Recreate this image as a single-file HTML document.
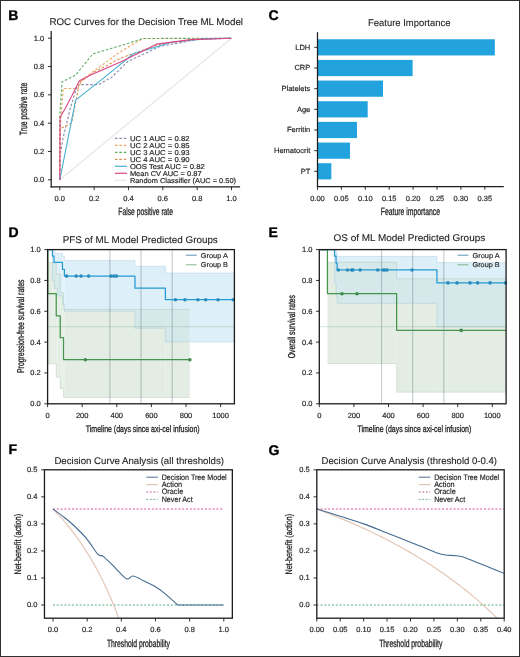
<!DOCTYPE html>
<html><head><meta charset="utf-8"><style>
html,body{margin:0;padding:0;background:#fff;width:520px;height:657px;overflow:hidden}
svg{display:block;will-change:transform}
text{font-family:"Liberation Sans", sans-serif;text-rendering:geometricPrecision}
</style></head><body>
<svg width="520" height="657" viewBox="0 0 520 657" font-family='"Liberation Sans", sans-serif'>
<rect x="0" y="0" width="520" height="657" fill="#ffffff"/>
<text x="8.3" y="19.6" font-size="14.0" fill="#000" text-anchor="start" stroke="#000" stroke-width="0.35" font-weight="bold">B</text>
<text x="49.4" y="25" font-size="9.7" fill="#222222" text-anchor="start" stroke="#222222" stroke-width="0.1" textLength="193.6" lengthAdjust="spacingAndGlyphs">ROC Curves for the Decision Tree ML Model</text>
<line x1="59.8" y1="179.8" x2="231.5" y2="38.2" stroke="#e8e8e8" stroke-width="1.3"/>
<polyline points="59.8,179.8 59.8,157.14 63.23,137.32 70.1,109 77.49,84.64 98.6,84.64 112.17,76.86 127.62,61.56 160.24,46.27 197.16,39.62 231.5,38.2" fill="none" stroke="#8a8ab0" stroke-width="1.1" stroke-linejoin="round" stroke-dasharray="2.6,1.8"/>
<polyline points="59.8,179.8 60.14,128.82 63.23,88.47 77.49,88.47 83.32,78.84 119.89,51.94 143.07,38.48 231.5,38.48" fill="none" stroke="#eea868" stroke-width="1.1" stroke-linejoin="round" stroke-dasharray="2.6,1.8"/>
<polyline points="59.8,179.8 59.8,116.08 62.03,81.95 75.6,75.02 92.94,53.78 125.73,44.15 143.07,38.48 231.5,38.2" fill="none" stroke="#5fae5f" stroke-width="1.1" stroke-linejoin="round" stroke-dasharray="2.6,1.8"/>
<polyline points="59.8,179.8 59.8,128.82 71.65,123.16 79.37,82.66 94.14,72.18 121.61,57.74 160.24,44.15 197.16,38.91 231.5,38.2" fill="none" stroke="#d89454" stroke-width="1.1" stroke-linejoin="round" stroke-dasharray="2.6,1.8"/>
<polyline points="59.8,179.8 75.6,100.08 102.55,78.84 133.46,53.78 171.75,42.31 205.75,38.62 231.5,38.2" fill="none" stroke="#48b0d4" stroke-width="1.1" stroke-linejoin="round"/>
<polyline points="59.8,179.8 60.14,117.35 64.95,109 71.65,96.26 79.37,80.68 90.71,75.02 121.61,61.56 156.47,44.15 191.15,39.62 231.5,38.2" fill="none" stroke="#dc4688" stroke-width="1.1" stroke-linejoin="round"/>
<line x1="114.9" y1="138.3" x2="127" y2="138.3" stroke="#8a8ab0" stroke-width="1.2" stroke-dasharray="2.6,1.8"/>
<text x="129.9" y="140.5" font-size="7.1" fill="#222222" text-anchor="start" stroke="#222222" stroke-width="0.16" textLength="59.6" lengthAdjust="spacingAndGlyphs">UC 1 AUC = 0.82</text>
<line x1="114.9" y1="145.3" x2="127" y2="145.3" stroke="#eea868" stroke-width="1.2" stroke-dasharray="2.6,1.8"/>
<text x="129.9" y="147.5" font-size="7.1" fill="#222222" text-anchor="start" stroke="#222222" stroke-width="0.16" textLength="59.6" lengthAdjust="spacingAndGlyphs">UC 2 AUC = 0.85</text>
<line x1="114.9" y1="152.3" x2="127" y2="152.3" stroke="#5fae5f" stroke-width="1.2" stroke-dasharray="2.6,1.8"/>
<text x="129.9" y="154.5" font-size="7.1" fill="#222222" text-anchor="start" stroke="#222222" stroke-width="0.16" textLength="59.6" lengthAdjust="spacingAndGlyphs">UC 3 AUC = 0.93</text>
<line x1="114.9" y1="159.3" x2="127" y2="159.3" stroke="#d89454" stroke-width="1.2" stroke-dasharray="2.6,1.8"/>
<text x="129.9" y="161.5" font-size="7.1" fill="#222222" text-anchor="start" stroke="#222222" stroke-width="0.16" textLength="59.6" lengthAdjust="spacingAndGlyphs">UC 4 AUC = 0.90</text>
<line x1="114.9" y1="166.3" x2="127" y2="166.3" stroke="#48b0d4" stroke-width="1.2"/>
<text x="129.9" y="168.5" font-size="7.1" fill="#222222" text-anchor="start" stroke="#222222" stroke-width="0.16" textLength="74.8" lengthAdjust="spacingAndGlyphs">OOS Test AUC = 0.82</text>
<line x1="114.9" y1="173.3" x2="127" y2="173.3" stroke="#dc4688" stroke-width="1.2"/>
<text x="129.9" y="175.5" font-size="7.1" fill="#222222" text-anchor="start" stroke="#222222" stroke-width="0.16" textLength="71.7" lengthAdjust="spacingAndGlyphs">Mean CV AUC = 0.87</text>
<line x1="114.9" y1="180.3" x2="127" y2="180.3" stroke="#e8e8e8" stroke-width="1.2"/>
<text x="129.9" y="182.5" font-size="7.1" fill="#222222" text-anchor="start" stroke="#222222" stroke-width="0.16" textLength="106.1" lengthAdjust="spacingAndGlyphs">Random Classifier (AUC = 0.50)</text>
<line x1="51.2" y1="31.1" x2="51.2" y2="187.5" stroke="#1c1c1c" stroke-width="1.25"/>
<line x1="50.6" y1="186.9" x2="240.1" y2="186.9" stroke="#1c1c1c" stroke-width="1.25"/>
<line x1="59.8" y1="186.9" x2="59.8" y2="190.2" stroke="#1c1c1c" stroke-width="0.9"/>
<text x="59.8" y="200.8" font-size="7.5" fill="#222222" text-anchor="middle" stroke="#222222" stroke-width="0.16">0.0</text>
<line x1="94.14" y1="186.9" x2="94.14" y2="190.2" stroke="#1c1c1c" stroke-width="0.9"/>
<text x="94.14" y="200.8" font-size="7.5" fill="#222222" text-anchor="middle" stroke="#222222" stroke-width="0.16">0.2</text>
<line x1="128.48" y1="186.9" x2="128.48" y2="190.2" stroke="#1c1c1c" stroke-width="0.9"/>
<text x="128.48" y="200.8" font-size="7.5" fill="#222222" text-anchor="middle" stroke="#222222" stroke-width="0.16">0.4</text>
<line x1="162.82" y1="186.9" x2="162.82" y2="190.2" stroke="#1c1c1c" stroke-width="0.9"/>
<text x="162.82" y="200.8" font-size="7.5" fill="#222222" text-anchor="middle" stroke="#222222" stroke-width="0.16">0.6</text>
<line x1="197.16" y1="186.9" x2="197.16" y2="190.2" stroke="#1c1c1c" stroke-width="0.9"/>
<text x="197.16" y="200.8" font-size="7.5" fill="#222222" text-anchor="middle" stroke="#222222" stroke-width="0.16">0.8</text>
<line x1="231.5" y1="186.9" x2="231.5" y2="190.2" stroke="#1c1c1c" stroke-width="0.9"/>
<text x="231.5" y="200.8" font-size="7.5" fill="#222222" text-anchor="middle" stroke="#222222" stroke-width="0.16">1.0</text>
<line x1="47.9" y1="179.8" x2="51.2" y2="179.8" stroke="#1c1c1c" stroke-width="0.9"/>
<text x="44.3" y="182.25" font-size="7.5" fill="#222222" text-anchor="end" stroke="#222222" stroke-width="0.16">0.0</text>
<line x1="47.9" y1="151.48" x2="51.2" y2="151.48" stroke="#1c1c1c" stroke-width="0.9"/>
<text x="44.3" y="153.93" font-size="7.5" fill="#222222" text-anchor="end" stroke="#222222" stroke-width="0.16">0.2</text>
<line x1="47.9" y1="123.16" x2="51.2" y2="123.16" stroke="#1c1c1c" stroke-width="0.9"/>
<text x="44.3" y="125.61" font-size="7.5" fill="#222222" text-anchor="end" stroke="#222222" stroke-width="0.16">0.4</text>
<line x1="47.9" y1="94.84" x2="51.2" y2="94.84" stroke="#1c1c1c" stroke-width="0.9"/>
<text x="44.3" y="97.29" font-size="7.5" fill="#222222" text-anchor="end" stroke="#222222" stroke-width="0.16">0.6</text>
<line x1="47.9" y1="66.52" x2="51.2" y2="66.52" stroke="#1c1c1c" stroke-width="0.9"/>
<text x="44.3" y="68.97" font-size="7.5" fill="#222222" text-anchor="end" stroke="#222222" stroke-width="0.16">0.8</text>
<line x1="47.9" y1="38.2" x2="51.2" y2="38.2" stroke="#1c1c1c" stroke-width="0.9"/>
<text x="44.3" y="40.65" font-size="7.5" fill="#222222" text-anchor="end" stroke="#222222" stroke-width="0.16">1.0</text>
<text x="145.65" y="214.9" font-size="10.5" fill="#222222" text-anchor="middle" stroke="#222222" stroke-width="0.3" textLength="54.7" lengthAdjust="spacingAndGlyphs">False positive rate</text>
<text x="26.8" y="109" font-size="10.5" fill="#222222" text-anchor="middle" stroke="#222222" stroke-width="0.3" textLength="52.4" lengthAdjust="spacingAndGlyphs" transform="rotate(-90 26.8 109)">True positive rate</text>
<text x="268.5" y="20" font-size="14.0" fill="#000" text-anchor="start" stroke="#000" stroke-width="0.35" font-weight="bold">C</text>
<text x="368.1" y="25.9" font-size="9.7" fill="#222222" text-anchor="start" stroke="#222222" stroke-width="0.1" textLength="82.3" lengthAdjust="spacingAndGlyphs">Feature Importance</text>
<rect x="317.5" y="39.25" width="177.34" height="16.2" fill="#22a3de"/>
<rect x="317.5" y="59.91" width="95.12" height="16.2" fill="#22a3de"/>
<rect x="317.5" y="80.57" width="65.49" height="16.2" fill="#22a3de"/>
<rect x="317.5" y="101.23" width="50.19" height="16.2" fill="#22a3de"/>
<rect x="317.5" y="121.89" width="39.48" height="16.2" fill="#22a3de"/>
<rect x="317.5" y="142.55" width="32.5" height="16.2" fill="#22a3de"/>
<rect x="317.5" y="163.21" width="13.86" height="16.2" fill="#22a3de"/>
<line x1="317.5" y1="32.2" x2="317.5" y2="187.1" stroke="#1c1c1c" stroke-width="1.25"/>
<line x1="316.9" y1="186.5" x2="503.8" y2="186.5" stroke="#1c1c1c" stroke-width="1.25"/>
<line x1="317.5" y1="186.5" x2="317.5" y2="189.8" stroke="#1c1c1c" stroke-width="0.9"/>
<text x="317.5" y="200.5" font-size="7.5" fill="#222222" text-anchor="middle" stroke="#222222" stroke-width="0.16">0.00</text>
<line x1="341.4" y1="186.5" x2="341.4" y2="189.8" stroke="#1c1c1c" stroke-width="0.9"/>
<text x="341.4" y="200.5" font-size="7.5" fill="#222222" text-anchor="middle" stroke="#222222" stroke-width="0.16">0.05</text>
<line x1="365.3" y1="186.5" x2="365.3" y2="189.8" stroke="#1c1c1c" stroke-width="0.9"/>
<text x="365.3" y="200.5" font-size="7.5" fill="#222222" text-anchor="middle" stroke="#222222" stroke-width="0.16">0.10</text>
<line x1="389.2" y1="186.5" x2="389.2" y2="189.8" stroke="#1c1c1c" stroke-width="0.9"/>
<text x="389.2" y="200.5" font-size="7.5" fill="#222222" text-anchor="middle" stroke="#222222" stroke-width="0.16">0.15</text>
<line x1="413.1" y1="186.5" x2="413.1" y2="189.8" stroke="#1c1c1c" stroke-width="0.9"/>
<text x="413.1" y="200.5" font-size="7.5" fill="#222222" text-anchor="middle" stroke="#222222" stroke-width="0.16">0.20</text>
<line x1="437" y1="186.5" x2="437" y2="189.8" stroke="#1c1c1c" stroke-width="0.9"/>
<text x="437" y="200.5" font-size="7.5" fill="#222222" text-anchor="middle" stroke="#222222" stroke-width="0.16">0.25</text>
<line x1="460.9" y1="186.5" x2="460.9" y2="189.8" stroke="#1c1c1c" stroke-width="0.9"/>
<text x="460.9" y="200.5" font-size="7.5" fill="#222222" text-anchor="middle" stroke="#222222" stroke-width="0.16">0.30</text>
<line x1="484.8" y1="186.5" x2="484.8" y2="189.8" stroke="#1c1c1c" stroke-width="0.9"/>
<text x="484.8" y="200.5" font-size="7.5" fill="#222222" text-anchor="middle" stroke="#222222" stroke-width="0.16">0.35</text>
<line x1="314.2" y1="47.35" x2="317.5" y2="47.35" stroke="#1c1c1c" stroke-width="0.9"/>
<text x="310.3" y="49.8" font-size="7.5" fill="#222222" text-anchor="end" stroke="#222222" stroke-width="0.16">LDH</text>
<line x1="314.2" y1="68.01" x2="317.5" y2="68.01" stroke="#1c1c1c" stroke-width="0.9"/>
<text x="310.3" y="70.46" font-size="7.5" fill="#222222" text-anchor="end" stroke="#222222" stroke-width="0.16">CRP</text>
<line x1="314.2" y1="88.67" x2="317.5" y2="88.67" stroke="#1c1c1c" stroke-width="0.9"/>
<text x="310.3" y="91.12" font-size="7.5" fill="#222222" text-anchor="end" stroke="#222222" stroke-width="0.16">Platelets</text>
<line x1="314.2" y1="109.33" x2="317.5" y2="109.33" stroke="#1c1c1c" stroke-width="0.9"/>
<text x="310.3" y="111.78" font-size="7.5" fill="#222222" text-anchor="end" stroke="#222222" stroke-width="0.16">Age</text>
<line x1="314.2" y1="129.99" x2="317.5" y2="129.99" stroke="#1c1c1c" stroke-width="0.9"/>
<text x="310.3" y="132.44" font-size="7.5" fill="#222222" text-anchor="end" stroke="#222222" stroke-width="0.16">Ferritin</text>
<line x1="314.2" y1="150.65" x2="317.5" y2="150.65" stroke="#1c1c1c" stroke-width="0.9"/>
<text x="310.3" y="153.1" font-size="7.5" fill="#222222" text-anchor="end" stroke="#222222" stroke-width="0.16">Hematocrit</text>
<line x1="314.2" y1="171.31" x2="317.5" y2="171.31" stroke="#1c1c1c" stroke-width="0.9"/>
<text x="310.3" y="173.76" font-size="7.5" fill="#222222" text-anchor="end" stroke="#222222" stroke-width="0.16">PT</text>
<text x="410.4" y="214.7" font-size="10.5" fill="#222222" text-anchor="middle" stroke="#222222" stroke-width="0.3" textLength="59.2" lengthAdjust="spacingAndGlyphs">Feature importance</text>
<text x="8.5" y="237.2" font-size="14.0" fill="#000" text-anchor="start" stroke="#000" stroke-width="0.35" font-weight="bold">D</text>
<text x="62.7" y="243.35" font-size="9.7" fill="#222222" text-anchor="start" stroke="#222222" stroke-width="0.1" textLength="155.1" lengthAdjust="spacingAndGlyphs">PFS of ML Model Predicted Groups</text>
<rect x="47.6" y="249.6" width="0.17" height="0" fill="#ddeff8"/>
<rect x="47.6" y="249.6" width="0.17" height="0" fill="#e3ede3"/>
<rect x="47.77" y="249.6" width="4.67" height="0" fill="#ddeff8"/>
<rect x="47.77" y="262.55" width="4.67" height="101.31" fill="#e3ede3"/>
<rect x="52.44" y="250.37" width="1.9" height="30.07" fill="#ddeff8"/>
<rect x="52.44" y="262.55" width="1.9" height="101.31" fill="#e3ede3"/>
<rect x="52.44" y="262.55" width="1.9" height="17.89" fill="#d5e9eb"/>
<rect x="54.35" y="253.46" width="1.9" height="35" fill="#ddeff8"/>
<rect x="54.35" y="262.55" width="1.9" height="101.31" fill="#e3ede3"/>
<rect x="54.35" y="262.55" width="1.9" height="25.91" fill="#d5e9eb"/>
<rect x="56.25" y="253.46" width="1.04" height="35" fill="#ddeff8"/>
<rect x="56.25" y="274.27" width="1.04" height="103.01" fill="#e3ede3"/>
<rect x="56.25" y="274.27" width="1.04" height="14.19" fill="#d5e9eb"/>
<rect x="57.29" y="253.46" width="2.94" height="42.41" fill="#ddeff8"/>
<rect x="57.29" y="274.27" width="2.94" height="103.01" fill="#e3ede3"/>
<rect x="57.29" y="274.27" width="2.94" height="21.59" fill="#d5e9eb"/>
<rect x="60.23" y="253.46" width="2.25" height="42.41" fill="#ddeff8"/>
<rect x="60.23" y="292.78" width="2.25" height="95.76" fill="#e3ede3"/>
<rect x="60.23" y="292.78" width="2.25" height="3.08" fill="#d5e9eb"/>
<rect x="62.48" y="256.54" width="1.04" height="47.65" fill="#ddeff8"/>
<rect x="62.48" y="292.78" width="1.04" height="95.76" fill="#e3ede3"/>
<rect x="62.48" y="292.78" width="1.04" height="11.41" fill="#d5e9eb"/>
<rect x="63.52" y="256.54" width="0.87" height="47.65" fill="#ddeff8"/>
<rect x="63.52" y="309.43" width="0.87" height="88.05" fill="#e3ede3"/>
<rect x="64.38" y="260.55" width="70.58" height="50.73" fill="#ddeff8"/>
<rect x="64.38" y="309.43" width="70.58" height="88.05" fill="#e3ede3"/>
<rect x="64.38" y="309.43" width="70.58" height="1.85" fill="#d5e9eb"/>
<rect x="134.97" y="266.25" width="30.45" height="61.99" fill="#ddeff8"/>
<rect x="134.97" y="309.43" width="30.45" height="88.05" fill="#e3ede3"/>
<rect x="134.97" y="309.43" width="30.45" height="18.81" fill="#d5e9eb"/>
<rect x="165.41" y="273.04" width="24.39" height="68.93" fill="#ddeff8"/>
<rect x="165.41" y="309.43" width="24.39" height="88.05" fill="#e3ede3"/>
<rect x="165.41" y="309.43" width="24.39" height="32.54" fill="#d5e9eb"/>
<rect x="189.81" y="273.04" width="44.63" height="68.93" fill="#ddeff8"/>
<polyline points="47.6,249.6 52.44,249.6 52.44,250.37 54.35,250.37 54.35,253.46 62.48,253.46 62.48,256.54 64.38,256.54 64.38,260.55 134.97,260.55 134.97,266.25 165.41,266.25 165.41,273.04 234.44,273.04" fill="none" stroke="rgba(120,170,200,0.35)" stroke-width="0.7" stroke-linejoin="round"/>
<polyline points="47.6,249.6 52.44,249.6 52.44,280.44 54.35,280.44 54.35,288.46 57.29,288.46 57.29,295.86 62.48,295.86 62.48,304.19 64.38,304.19 64.38,311.28 134.97,311.28 134.97,328.24 165.41,328.24 165.41,341.97 234.44,341.97" fill="none" stroke="rgba(120,170,200,0.35)" stroke-width="0.7" stroke-linejoin="round"/>
<polyline points="47.6,249.6 47.77,249.6 47.77,262.55 56.25,262.55 56.25,274.27 60.23,274.27 60.23,292.78 63.52,292.78 63.52,309.43 189.81,309.43" fill="none" stroke="rgba(130,170,130,0.35)" stroke-width="0.7" stroke-linejoin="round"/>
<polyline points="47.6,249.6 47.77,249.6 47.77,363.86 56.25,363.86 56.25,377.28 60.23,377.28 60.23,388.53 63.52,388.53 63.52,397.48 189.81,397.48" fill="none" stroke="rgba(130,170,130,0.35)" stroke-width="0.7" stroke-linejoin="round"/>
<line x1="109.88" y1="249.6" x2="109.88" y2="403.8" stroke="rgba(70,95,105,0.45)" stroke-width="0.8"/>
<line x1="141.02" y1="249.6" x2="141.02" y2="403.8" stroke="rgba(70,95,105,0.45)" stroke-width="0.8"/>
<line x1="172.16" y1="249.6" x2="172.16" y2="403.8" stroke="rgba(70,95,105,0.45)" stroke-width="0.8"/>
<line x1="47.6" y1="326.7" x2="234.4" y2="326.7" stroke="rgba(120,170,130,0.45)" stroke-width="0.7"/>
<polyline points="47.6,249.6 52.44,249.6 52.44,256.08 54,256.08 54,262.4 62.48,262.4 62.48,269.34 64.38,269.34 64.38,276.12 134.97,276.12 134.97,288.15 165.41,288.15 165.41,299.72 234.44,299.72" fill="none" stroke="#239bd3" stroke-width="1.25" stroke-linejoin="round" stroke-linejoin="miter"/>
<polyline points="47.6,249.6 47.77,249.6 47.77,293.7 56.25,293.7 56.25,315.75 60.23,315.75 60.23,337.65 63.52,337.65 63.52,359.7 189.81,359.7" fill="none" stroke="#46954f" stroke-width="1.25" stroke-linejoin="round" stroke-linejoin="miter"/>
<circle cx="66.63" cy="276.12" r="1.8" fill="#2a8cbc"/>
<circle cx="76.14" cy="276.12" r="1.8" fill="#2a8cbc"/>
<circle cx="80.99" cy="276.12" r="1.8" fill="#2a8cbc"/>
<circle cx="88.6" cy="276.12" r="1.8" fill="#2a8cbc"/>
<circle cx="110.92" cy="276.12" r="1.8" fill="#2a8cbc"/>
<circle cx="113.86" cy="276.12" r="1.8" fill="#2a8cbc"/>
<circle cx="116.45" cy="276.12" r="1.8" fill="#2a8cbc"/>
<circle cx="175.45" cy="299.72" r="1.8" fill="#2a8cbc"/>
<circle cx="184.96" cy="299.72" r="1.8" fill="#2a8cbc"/>
<circle cx="197.94" cy="299.72" r="1.8" fill="#2a8cbc"/>
<circle cx="205.72" cy="299.72" r="1.8" fill="#2a8cbc"/>
<circle cx="218" cy="299.72" r="1.8" fill="#2a8cbc"/>
<circle cx="233.23" cy="299.72" r="1.8" fill="#2a8cbc"/>
<circle cx="85.31" cy="359.7" r="1.8" fill="#3f8a4c"/>
<circle cx="189.81" cy="359.7" r="1.8" fill="#3f8a4c"/>
<line x1="185.8" y1="255.2" x2="196.7" y2="255.2" stroke="#4a88b0" stroke-width="0.9"/>
<text x="200.8" y="257.8" font-size="7.0" fill="#222222" text-anchor="start" stroke="#222222" stroke-width="0.16" textLength="27.1" lengthAdjust="spacingAndGlyphs">Group A</text>
<line x1="185.8" y1="264.8" x2="196.7" y2="264.8" stroke="#78b080" stroke-width="0.9"/>
<text x="200.8" y="267.3" font-size="7.0" fill="#222222" text-anchor="start" stroke="#222222" stroke-width="0.16" textLength="27.1" lengthAdjust="spacingAndGlyphs">Group B</text>
<rect x="47.6" y="249.6" width="186.8" height="154.2" fill="none" stroke="#1c1c1c" stroke-width="1.3"/>
<line x1="47.6" y1="403.8" x2="47.6" y2="407.1" stroke="#1c1c1c" stroke-width="0.9"/>
<text x="47.6" y="417.8" font-size="7.5" fill="#222222" text-anchor="middle" stroke="#222222" stroke-width="0.16">0</text>
<line x1="82.2" y1="403.8" x2="82.2" y2="407.1" stroke="#1c1c1c" stroke-width="0.9"/>
<text x="82.2" y="417.8" font-size="7.5" fill="#222222" text-anchor="middle" stroke="#222222" stroke-width="0.16">200</text>
<line x1="116.8" y1="403.8" x2="116.8" y2="407.1" stroke="#1c1c1c" stroke-width="0.9"/>
<text x="116.8" y="417.8" font-size="7.5" fill="#222222" text-anchor="middle" stroke="#222222" stroke-width="0.16">400</text>
<line x1="151.4" y1="403.8" x2="151.4" y2="407.1" stroke="#1c1c1c" stroke-width="0.9"/>
<text x="151.4" y="417.8" font-size="7.5" fill="#222222" text-anchor="middle" stroke="#222222" stroke-width="0.16">600</text>
<line x1="186" y1="403.8" x2="186" y2="407.1" stroke="#1c1c1c" stroke-width="0.9"/>
<text x="186" y="417.8" font-size="7.5" fill="#222222" text-anchor="middle" stroke="#222222" stroke-width="0.16">800</text>
<line x1="220.6" y1="403.8" x2="220.6" y2="407.1" stroke="#1c1c1c" stroke-width="0.9"/>
<text x="220.6" y="417.8" font-size="7.5" fill="#222222" text-anchor="middle" stroke="#222222" stroke-width="0.16">1000</text>
<line x1="44.3" y1="403.8" x2="47.6" y2="403.8" stroke="#1c1c1c" stroke-width="0.9"/>
<text x="40.8" y="406.25" font-size="7.5" fill="#222222" text-anchor="end" stroke="#222222" stroke-width="0.16">0.0</text>
<line x1="44.3" y1="372.96" x2="47.6" y2="372.96" stroke="#1c1c1c" stroke-width="0.9"/>
<text x="40.8" y="375.41" font-size="7.5" fill="#222222" text-anchor="end" stroke="#222222" stroke-width="0.16">0.2</text>
<line x1="44.3" y1="342.12" x2="47.6" y2="342.12" stroke="#1c1c1c" stroke-width="0.9"/>
<text x="40.8" y="344.57" font-size="7.5" fill="#222222" text-anchor="end" stroke="#222222" stroke-width="0.16">0.4</text>
<line x1="44.3" y1="311.28" x2="47.6" y2="311.28" stroke="#1c1c1c" stroke-width="0.9"/>
<text x="40.8" y="313.73" font-size="7.5" fill="#222222" text-anchor="end" stroke="#222222" stroke-width="0.16">0.6</text>
<line x1="44.3" y1="280.44" x2="47.6" y2="280.44" stroke="#1c1c1c" stroke-width="0.9"/>
<text x="40.8" y="282.89" font-size="7.5" fill="#222222" text-anchor="end" stroke="#222222" stroke-width="0.16">0.8</text>
<line x1="44.3" y1="249.6" x2="47.6" y2="249.6" stroke="#1c1c1c" stroke-width="0.9"/>
<text x="40.8" y="252.05" font-size="7.5" fill="#222222" text-anchor="end" stroke="#222222" stroke-width="0.16">1.0</text>
<text x="142.7" y="431.8" font-size="9.3" fill="#222222" text-anchor="middle" stroke="#222222" stroke-width="0.3" textLength="113.8" lengthAdjust="spacingAndGlyphs">Timeline (days since axi-cel infusion)</text>
<text x="23.9" y="326.3" font-size="10.0" fill="#222222" text-anchor="middle" stroke="#222222" stroke-width="0.3" textLength="93.4" lengthAdjust="spacingAndGlyphs" transform="rotate(-90 23.9 326.3)">Progression-free survival rates</text>
<text x="268.5" y="237.2" font-size="14.0" fill="#000" text-anchor="start" stroke="#000" stroke-width="0.35" font-weight="bold">E</text>
<text x="333.5" y="241.4" font-size="9.7" fill="#222222" text-anchor="start" stroke="#222222" stroke-width="0.1" textLength="151.7" lengthAdjust="spacingAndGlyphs">OS of ML Model Predicted Groups</text>
<rect x="319.3" y="249.6" width="8.13" height="0" fill="#ddeff8"/>
<rect x="327.43" y="249.6" width="7.09" height="0" fill="#ddeff8"/>
<rect x="327.43" y="262.24" width="7.09" height="101.31" fill="#e3ede3"/>
<rect x="334.52" y="250.37" width="1.56" height="33.15" fill="#ddeff8"/>
<rect x="334.52" y="262.24" width="1.56" height="101.31" fill="#e3ede3"/>
<rect x="334.52" y="262.24" width="1.56" height="21.28" fill="#d5e9eb"/>
<rect x="336.08" y="252.68" width="1.04" height="43.18" fill="#ddeff8"/>
<rect x="336.08" y="262.24" width="1.04" height="101.31" fill="#e3ede3"/>
<rect x="336.08" y="262.24" width="1.04" height="33.62" fill="#d5e9eb"/>
<rect x="337.12" y="256.38" width="59.51" height="46.88" fill="#ddeff8"/>
<rect x="337.12" y="262.24" width="59.51" height="101.31" fill="#e3ede3"/>
<rect x="337.12" y="262.24" width="59.51" height="41.02" fill="#d5e9eb"/>
<rect x="396.63" y="256.38" width="40.31" height="46.88" fill="#ddeff8"/>
<rect x="396.63" y="278.74" width="40.31" height="113.49" fill="#e3ede3"/>
<rect x="396.63" y="278.74" width="40.31" height="24.52" fill="#d5e9eb"/>
<rect x="436.94" y="262.55" width="69.2" height="64.46" fill="#ddeff8"/>
<rect x="436.94" y="278.74" width="69.2" height="113.49" fill="#e3ede3"/>
<rect x="436.94" y="278.74" width="69.2" height="48.26" fill="#d5e9eb"/>
<polyline points="319.3,249.6 334.52,249.6 334.52,250.37 336.08,250.37 336.08,252.68 337.12,252.68 337.12,256.38 436.94,256.38 436.94,262.55 506.14,262.55" fill="none" stroke="rgba(120,170,200,0.35)" stroke-width="0.7" stroke-linejoin="round"/>
<polyline points="319.3,249.6 334.52,249.6 334.52,283.52 336.08,283.52 336.08,295.86 337.12,295.86 337.12,303.26 436.94,303.26 436.94,327.01 506.14,327.01" fill="none" stroke="rgba(120,170,200,0.35)" stroke-width="0.7" stroke-linejoin="round"/>
<polyline points="327.43,262.24 396.63,262.24 396.63,278.74 506.14,278.74" fill="none" stroke="rgba(130,170,130,0.35)" stroke-width="0.7" stroke-linejoin="round"/>
<polyline points="327.43,363.55 396.63,363.55 396.63,392.24 506.14,392.24" fill="none" stroke="rgba(130,170,130,0.35)" stroke-width="0.7" stroke-linejoin="round"/>
<line x1="381.58" y1="249.6" x2="381.58" y2="403.8" stroke="rgba(70,95,105,0.45)" stroke-width="0.8"/>
<line x1="412.72" y1="249.6" x2="412.72" y2="403.8" stroke="rgba(70,95,105,0.45)" stroke-width="0.8"/>
<line x1="443.86" y1="249.6" x2="443.86" y2="403.8" stroke="rgba(70,95,105,0.45)" stroke-width="0.8"/>
<line x1="319.3" y1="326.7" x2="506.1" y2="326.7" stroke="rgba(120,170,130,0.45)" stroke-width="0.7"/>
<polyline points="319.3,249.6 334.52,249.6 334.52,256.23 336.08,256.23 336.08,263.02 337.12,263.02 337.12,269.95 436.94,269.95 436.94,282.91 506.14,282.91" fill="none" stroke="#239bd3" stroke-width="1.25" stroke-linejoin="round" stroke-linejoin="miter"/>
<polyline points="319.3,249.6 327.43,249.6 327.43,293.7 396.63,293.7 396.63,330.4 506.14,330.4" fill="none" stroke="#46954f" stroke-width="1.25" stroke-linejoin="round" stroke-linejoin="miter"/>
<circle cx="338.33" cy="269.95" r="1.8" fill="#2a8cbc"/>
<circle cx="347.5" cy="269.95" r="1.8" fill="#2a8cbc"/>
<circle cx="351.65" cy="269.95" r="1.8" fill="#2a8cbc"/>
<circle cx="352.86" cy="269.95" r="1.8" fill="#2a8cbc"/>
<circle cx="360.13" cy="269.95" r="1.8" fill="#2a8cbc"/>
<circle cx="377.77" cy="269.95" r="1.8" fill="#2a8cbc"/>
<circle cx="382.96" cy="269.95" r="1.8" fill="#2a8cbc"/>
<circle cx="384.69" cy="269.95" r="1.8" fill="#2a8cbc"/>
<circle cx="386.94" cy="269.95" r="1.8" fill="#2a8cbc"/>
<circle cx="412.03" cy="269.95" r="1.8" fill="#2a8cbc"/>
<circle cx="448.01" cy="282.91" r="1.8" fill="#2a8cbc"/>
<circle cx="457.01" cy="282.91" r="1.8" fill="#2a8cbc"/>
<circle cx="469.98" cy="282.91" r="1.8" fill="#2a8cbc"/>
<circle cx="477.6" cy="282.91" r="1.8" fill="#2a8cbc"/>
<circle cx="490.05" cy="282.91" r="1.8" fill="#2a8cbc"/>
<circle cx="505.45" cy="282.91" r="1.8" fill="#2a8cbc"/>
<circle cx="341.96" cy="293.7" r="1.8" fill="#3f8a4c"/>
<circle cx="357.01" cy="293.7" r="1.8" fill="#3f8a4c"/>
<circle cx="461.16" cy="330.4" r="1.8" fill="#3f8a4c"/>
<line x1="457.5" y1="255.2" x2="468.4" y2="255.2" stroke="#4a88b0" stroke-width="0.9"/>
<text x="472.5" y="257.8" font-size="7.0" fill="#222222" text-anchor="start" stroke="#222222" stroke-width="0.16" textLength="27.1" lengthAdjust="spacingAndGlyphs">Group A</text>
<line x1="457.5" y1="264.8" x2="468.4" y2="264.8" stroke="#78b080" stroke-width="0.9"/>
<text x="472.5" y="267.3" font-size="7.0" fill="#222222" text-anchor="start" stroke="#222222" stroke-width="0.16" textLength="27.1" lengthAdjust="spacingAndGlyphs">Group B</text>
<rect x="319.3" y="249.6" width="186.8" height="154.2" fill="none" stroke="#1c1c1c" stroke-width="1.3"/>
<line x1="319.3" y1="403.8" x2="319.3" y2="407.1" stroke="#1c1c1c" stroke-width="0.9"/>
<text x="319.3" y="417.8" font-size="7.5" fill="#222222" text-anchor="middle" stroke="#222222" stroke-width="0.16">0</text>
<line x1="353.9" y1="403.8" x2="353.9" y2="407.1" stroke="#1c1c1c" stroke-width="0.9"/>
<text x="353.9" y="417.8" font-size="7.5" fill="#222222" text-anchor="middle" stroke="#222222" stroke-width="0.16">200</text>
<line x1="388.5" y1="403.8" x2="388.5" y2="407.1" stroke="#1c1c1c" stroke-width="0.9"/>
<text x="388.5" y="417.8" font-size="7.5" fill="#222222" text-anchor="middle" stroke="#222222" stroke-width="0.16">400</text>
<line x1="423.1" y1="403.8" x2="423.1" y2="407.1" stroke="#1c1c1c" stroke-width="0.9"/>
<text x="423.1" y="417.8" font-size="7.5" fill="#222222" text-anchor="middle" stroke="#222222" stroke-width="0.16">600</text>
<line x1="457.7" y1="403.8" x2="457.7" y2="407.1" stroke="#1c1c1c" stroke-width="0.9"/>
<text x="457.7" y="417.8" font-size="7.5" fill="#222222" text-anchor="middle" stroke="#222222" stroke-width="0.16">800</text>
<line x1="492.3" y1="403.8" x2="492.3" y2="407.1" stroke="#1c1c1c" stroke-width="0.9"/>
<text x="492.3" y="417.8" font-size="7.5" fill="#222222" text-anchor="middle" stroke="#222222" stroke-width="0.16">1000</text>
<line x1="316" y1="403.8" x2="319.3" y2="403.8" stroke="#1c1c1c" stroke-width="0.9"/>
<text x="312.5" y="406.25" font-size="7.5" fill="#222222" text-anchor="end" stroke="#222222" stroke-width="0.16">0.0</text>
<line x1="316" y1="372.96" x2="319.3" y2="372.96" stroke="#1c1c1c" stroke-width="0.9"/>
<text x="312.5" y="375.41" font-size="7.5" fill="#222222" text-anchor="end" stroke="#222222" stroke-width="0.16">0.2</text>
<line x1="316" y1="342.12" x2="319.3" y2="342.12" stroke="#1c1c1c" stroke-width="0.9"/>
<text x="312.5" y="344.57" font-size="7.5" fill="#222222" text-anchor="end" stroke="#222222" stroke-width="0.16">0.4</text>
<line x1="316" y1="311.28" x2="319.3" y2="311.28" stroke="#1c1c1c" stroke-width="0.9"/>
<text x="312.5" y="313.73" font-size="7.5" fill="#222222" text-anchor="end" stroke="#222222" stroke-width="0.16">0.6</text>
<line x1="316" y1="280.44" x2="319.3" y2="280.44" stroke="#1c1c1c" stroke-width="0.9"/>
<text x="312.5" y="282.89" font-size="7.5" fill="#222222" text-anchor="end" stroke="#222222" stroke-width="0.16">0.8</text>
<line x1="316" y1="249.6" x2="319.3" y2="249.6" stroke="#1c1c1c" stroke-width="0.9"/>
<text x="312.5" y="252.05" font-size="7.5" fill="#222222" text-anchor="end" stroke="#222222" stroke-width="0.16">1.0</text>
<text x="414.4" y="431.8" font-size="9.3" fill="#222222" text-anchor="middle" stroke="#222222" stroke-width="0.3" textLength="113.8" lengthAdjust="spacingAndGlyphs">Timeline (days since axi-cel infusion)</text>
<text x="295.5" y="326.6" font-size="10.0" fill="#222222" text-anchor="middle" stroke="#222222" stroke-width="0.3" textLength="63.2" lengthAdjust="spacingAndGlyphs" transform="rotate(-90 295.5 326.6)">Overall survival rates</text>
<text x="8.5" y="454.3" font-size="14.0" fill="#000" text-anchor="start" stroke="#000" stroke-width="0.35" font-weight="bold">F</text>
<text x="54.4" y="463.6" font-size="9.7" fill="#222222" text-anchor="start" stroke="#222222" stroke-width="0.1" textLength="169.6" lengthAdjust="spacingAndGlyphs">Decision Curve Analysis (all thresholds)</text>
<clipPath id="clipF"><rect x="44.46" y="469.8" width="187.88" height="148.4"/></clipPath>
<clipPath id="clipG"><rect x="316.8" y="469.8" width="187.4" height="148.4"/></clipPath>
<g clip-path="url(#clipF)">
<line x1="53" y1="509.01" x2="223.8" y2="509.01" stroke="#de4f9f" stroke-width="1.0" stroke-dasharray="2,1.8"/>
<line x1="53" y1="605" x2="223.8" y2="605" stroke="#5aac7c" stroke-width="1.0" stroke-dasharray="2,1.8"/>
<polyline points="53,509.01 54.71,510.77 56.42,512.57 58.12,514.4 59.83,516.27 61.54,518.19 63.25,520.14 64.96,522.14 66.66,524.17 68.37,526.26 70.08,528.39 71.79,530.56 73.5,532.79 75.2,535.07 76.91,537.4 78.62,539.79 80.33,542.23 82.04,544.73 83.74,547.29 85.45,549.92 87.16,552.61 88.87,555.37 90.58,558.2 92.28,561.1 93.99,564.08 95.7,567.14 97.41,570.29 99.12,573.52 100.82,576.83 102.53,580.25 104.24,583.75 105.95,587.37 107.66,591.08 109.36,594.91 111.07,598.85 112.78,602.92 114.49,607.11 116.2,611.44 117.9,615.9 119.61,620.51" fill="none" stroke="#e3c7b6" stroke-width="1.2" stroke-linejoin="round"/>
<path d="M53,509.01 C54.71,510.27 59.78,513.83 63.25,516.58 C66.72,519.33 69.85,521.72 73.84,525.5 C77.82,529.29 83.17,534.52 87.16,539.29 C91.15,544.07 95.02,551.28 97.75,554.16 C100.48,557.05 100.77,554.44 103.56,556.6 C106.35,558.76 110.67,563.45 114.49,567.14 C118.3,570.84 123.37,577.28 126.44,578.77 C129.52,580.26 130.09,575.75 132.93,576.07 C135.78,576.38 140.05,579.04 143.52,580.66 C147,582.29 150.36,583.77 153.77,585.8 C157.19,587.83 160.03,589.63 164.02,592.83 C168.01,596.03 175.41,602.97 177.68,605 L223.8,605" fill="none" stroke="#436a92" stroke-width="1.1"/>
</g>
<line x1="146.3" y1="477.2" x2="157.8" y2="477.2" stroke="#3d5f82" stroke-width="0.9"/>
<text x="161.7" y="479.6" font-size="7.8" fill="#222222" text-anchor="start" stroke="#222222" stroke-width="0.16" textLength="65" lengthAdjust="spacingAndGlyphs">Decision Tree Model</text>
<line x1="146.3" y1="484.6" x2="157.8" y2="484.6" stroke="#e3c7b6" stroke-width="1.3"/>
<text x="161.7" y="487" font-size="7.8" fill="#222222" text-anchor="start" stroke="#222222" stroke-width="0.16" textLength="20.5" lengthAdjust="spacingAndGlyphs">Action</text>
<line x1="146.3" y1="492" x2="157.8" y2="492" stroke="#b44f8e" stroke-width="0.9" stroke-dasharray="1.9,1.6"/>
<text x="161.7" y="494.4" font-size="7.8" fill="#222222" text-anchor="start" stroke="#222222" stroke-width="0.16" textLength="21.5" lengthAdjust="spacingAndGlyphs">Oracle</text>
<line x1="146.3" y1="499.4" x2="157.8" y2="499.4" stroke="#5aac7c" stroke-width="0.9" stroke-dasharray="1.9,1.6"/>
<text x="161.7" y="501.8" font-size="7.8" fill="#222222" text-anchor="start" stroke="#222222" stroke-width="0.16" textLength="31" lengthAdjust="spacingAndGlyphs">Never Act</text>
<rect x="44.46" y="469.8" width="187.88" height="148.4" fill="none" stroke="#1c1c1c" stroke-width="1.3"/>
<line x1="53" y1="618.2" x2="53" y2="621.5" stroke="#1c1c1c" stroke-width="0.9"/>
<text x="53" y="632.2" font-size="7.5" fill="#222222" text-anchor="middle" stroke="#222222" stroke-width="0.16">0.0</text>
<line x1="87.16" y1="618.2" x2="87.16" y2="621.5" stroke="#1c1c1c" stroke-width="0.9"/>
<text x="87.16" y="632.2" font-size="7.5" fill="#222222" text-anchor="middle" stroke="#222222" stroke-width="0.16">0.2</text>
<line x1="121.32" y1="618.2" x2="121.32" y2="621.5" stroke="#1c1c1c" stroke-width="0.9"/>
<text x="121.32" y="632.2" font-size="7.5" fill="#222222" text-anchor="middle" stroke="#222222" stroke-width="0.16">0.4</text>
<line x1="155.48" y1="618.2" x2="155.48" y2="621.5" stroke="#1c1c1c" stroke-width="0.9"/>
<text x="155.48" y="632.2" font-size="7.5" fill="#222222" text-anchor="middle" stroke="#222222" stroke-width="0.16">0.6</text>
<line x1="189.64" y1="618.2" x2="189.64" y2="621.5" stroke="#1c1c1c" stroke-width="0.9"/>
<text x="189.64" y="632.2" font-size="7.5" fill="#222222" text-anchor="middle" stroke="#222222" stroke-width="0.16">0.8</text>
<line x1="223.8" y1="618.2" x2="223.8" y2="621.5" stroke="#1c1c1c" stroke-width="0.9"/>
<text x="223.8" y="632.2" font-size="7.5" fill="#222222" text-anchor="middle" stroke="#222222" stroke-width="0.16">1.0</text>
<line x1="41.16" y1="605" x2="44.46" y2="605" stroke="#1c1c1c" stroke-width="0.9"/>
<text x="37.36" y="607.45" font-size="7.5" fill="#222222" text-anchor="end" stroke="#222222" stroke-width="0.16">0.0</text>
<line x1="41.16" y1="577.96" x2="44.46" y2="577.96" stroke="#1c1c1c" stroke-width="0.9"/>
<text x="37.36" y="580.41" font-size="7.5" fill="#222222" text-anchor="end" stroke="#222222" stroke-width="0.16">0.1</text>
<line x1="41.16" y1="550.92" x2="44.46" y2="550.92" stroke="#1c1c1c" stroke-width="0.9"/>
<text x="37.36" y="553.37" font-size="7.5" fill="#222222" text-anchor="end" stroke="#222222" stroke-width="0.16">0.2</text>
<line x1="41.16" y1="523.88" x2="44.46" y2="523.88" stroke="#1c1c1c" stroke-width="0.9"/>
<text x="37.36" y="526.33" font-size="7.5" fill="#222222" text-anchor="end" stroke="#222222" stroke-width="0.16">0.3</text>
<line x1="41.16" y1="496.84" x2="44.46" y2="496.84" stroke="#1c1c1c" stroke-width="0.9"/>
<text x="37.36" y="499.29" font-size="7.5" fill="#222222" text-anchor="end" stroke="#222222" stroke-width="0.16">0.4</text>
<line x1="41.16" y1="469.8" x2="44.46" y2="469.8" stroke="#1c1c1c" stroke-width="0.9"/>
<text x="37.36" y="472.25" font-size="7.5" fill="#222222" text-anchor="end" stroke="#222222" stroke-width="0.16">0.5</text>
<text x="138.45" y="646.5" font-size="10.5" fill="#222222" text-anchor="middle" stroke="#222222" stroke-width="0.3" textLength="63.1" lengthAdjust="spacingAndGlyphs">Threshold probability</text>
<text x="21" y="544.2" font-size="9.5" fill="#222222" text-anchor="middle" stroke="#222222" stroke-width="0.3" textLength="60.6" lengthAdjust="spacingAndGlyphs" transform="rotate(-90 21 544.2)">Net-benefit (action)</text>
<text x="268.5" y="455" font-size="14.0" fill="#000" text-anchor="start" stroke="#000" stroke-width="0.35" font-weight="bold">G</text>
<text x="321.6" y="463.6" font-size="9.7" fill="#222222" text-anchor="start" stroke="#222222" stroke-width="0.1" textLength="175.4" lengthAdjust="spacingAndGlyphs">Decision Curve Analysis (threshold 0-0.4)</text>
<g clip-path="url(#clipG)">
<line x1="316.8" y1="509.01" x2="504.2" y2="509.01" stroke="#de4f9f" stroke-width="1.0" stroke-dasharray="2,1.8"/>
<line x1="316.8" y1="605" x2="504.2" y2="605" stroke="#5aac7c" stroke-width="1.0" stroke-dasharray="2,1.8"/>
<polyline points="316.8,509.01 319.14,509.88 321.49,510.77 323.83,511.66 326.17,512.57 328.51,513.48 330.86,514.4 333.2,515.33 335.54,516.27 337.88,517.23 340.23,518.19 342.57,519.16 344.91,520.14 347.25,521.13 349.6,522.14 351.94,523.15 354.28,524.17 356.62,525.21 358.97,526.26 361.31,527.32 363.65,528.39 365.99,529.47 368.34,530.56 370.68,531.67 373.02,532.79 375.36,533.92 377.71,535.07 380.05,536.23 382.39,537.4 384.73,538.59 387.08,539.79 389.42,541 391.76,542.23 394.1,543.47 396.45,544.73 398.79,546 401.13,547.29 403.47,548.6 405.82,549.92 408.16,551.26 410.5,552.61 412.84,553.98 415.19,555.37 417.53,556.78 419.87,558.2 422.21,559.64 424.56,561.1 426.9,562.58 429.24,564.08 431.58,565.6 433.93,567.14 436.27,568.7 438.61,570.29 440.95,571.89 443.3,573.52 445.64,575.16 447.98,576.83 450.32,578.53 452.67,580.25 455.01,581.99 457.35,583.75 459.69,585.55 462.04,587.37 464.38,589.21 466.72,591.08 469.06,592.98 471.41,594.91 473.75,596.87 476.09,598.85 478.43,600.87 480.78,602.92 483.12,605 485.46,607.11 487.8,609.26 490.15,611.44 492.49,613.65 494.83,615.9 497.17,618.19 499.52,620.51 501.86,622.88 504.2,625.28" fill="none" stroke="#e3c7b6" stroke-width="1.2" stroke-linejoin="round"/>
<path d="M316.8,509.01 C320.7,510.22 332.42,513.83 340.23,516.31 C348.03,518.79 355.84,521.09 363.65,523.88 C371.46,526.67 380.2,530.37 387.07,533.07 C393.95,535.78 398.94,537.78 404.88,540.1 C410.81,542.42 417.45,544.88 422.68,547 C427.91,549.12 432.52,551.48 436.27,552.81 C440.02,554.14 441.19,554.39 445.17,554.98 C449.15,555.56 455.16,555.2 460.16,556.33 C465.16,557.45 470.16,559.84 475.15,561.74 C480.15,563.63 484.99,565.61 490.14,567.68 C495.3,569.76 503.42,573.09 506.07,574.17" fill="none" stroke="#436a92" stroke-width="1.1"/>
</g>
<line x1="418.8" y1="477.2" x2="430.3" y2="477.2" stroke="#3d5f82" stroke-width="0.9"/>
<text x="434.2" y="479.6" font-size="7.8" fill="#222222" text-anchor="start" stroke="#222222" stroke-width="0.16" textLength="65" lengthAdjust="spacingAndGlyphs">Decision Tree Model</text>
<line x1="418.8" y1="484.6" x2="430.3" y2="484.6" stroke="#e3c7b6" stroke-width="1.3"/>
<text x="434.2" y="487" font-size="7.8" fill="#222222" text-anchor="start" stroke="#222222" stroke-width="0.16" textLength="20.5" lengthAdjust="spacingAndGlyphs">Action</text>
<line x1="418.8" y1="492" x2="430.3" y2="492" stroke="#b44f8e" stroke-width="0.9" stroke-dasharray="1.9,1.6"/>
<text x="434.2" y="494.4" font-size="7.8" fill="#222222" text-anchor="start" stroke="#222222" stroke-width="0.16" textLength="21.5" lengthAdjust="spacingAndGlyphs">Oracle</text>
<line x1="418.8" y1="499.4" x2="430.3" y2="499.4" stroke="#5aac7c" stroke-width="0.9" stroke-dasharray="1.9,1.6"/>
<text x="434.2" y="501.8" font-size="7.8" fill="#222222" text-anchor="start" stroke="#222222" stroke-width="0.16" textLength="31" lengthAdjust="spacingAndGlyphs">Never Act</text>
<rect x="316.8" y="469.8" width="187.4" height="148.4" fill="none" stroke="#1c1c1c" stroke-width="1.3"/>
<line x1="316.8" y1="618.2" x2="316.8" y2="621.5" stroke="#1c1c1c" stroke-width="0.9"/>
<text x="316.8" y="632.2" font-size="7.5" fill="#222222" text-anchor="middle" stroke="#222222" stroke-width="0.16">0.00</text>
<line x1="340.23" y1="618.2" x2="340.23" y2="621.5" stroke="#1c1c1c" stroke-width="0.9"/>
<text x="340.23" y="632.2" font-size="7.5" fill="#222222" text-anchor="middle" stroke="#222222" stroke-width="0.16">0.05</text>
<line x1="363.65" y1="618.2" x2="363.65" y2="621.5" stroke="#1c1c1c" stroke-width="0.9"/>
<text x="363.65" y="632.2" font-size="7.5" fill="#222222" text-anchor="middle" stroke="#222222" stroke-width="0.16">0.10</text>
<line x1="387.07" y1="618.2" x2="387.07" y2="621.5" stroke="#1c1c1c" stroke-width="0.9"/>
<text x="387.07" y="632.2" font-size="7.5" fill="#222222" text-anchor="middle" stroke="#222222" stroke-width="0.16">0.15</text>
<line x1="410.5" y1="618.2" x2="410.5" y2="621.5" stroke="#1c1c1c" stroke-width="0.9"/>
<text x="410.5" y="632.2" font-size="7.5" fill="#222222" text-anchor="middle" stroke="#222222" stroke-width="0.16">0.20</text>
<line x1="433.93" y1="618.2" x2="433.93" y2="621.5" stroke="#1c1c1c" stroke-width="0.9"/>
<text x="433.93" y="632.2" font-size="7.5" fill="#222222" text-anchor="middle" stroke="#222222" stroke-width="0.16">0.25</text>
<line x1="457.35" y1="618.2" x2="457.35" y2="621.5" stroke="#1c1c1c" stroke-width="0.9"/>
<text x="457.35" y="632.2" font-size="7.5" fill="#222222" text-anchor="middle" stroke="#222222" stroke-width="0.16">0.30</text>
<line x1="480.77" y1="618.2" x2="480.77" y2="621.5" stroke="#1c1c1c" stroke-width="0.9"/>
<text x="480.77" y="632.2" font-size="7.5" fill="#222222" text-anchor="middle" stroke="#222222" stroke-width="0.16">0.35</text>
<line x1="504.2" y1="618.2" x2="504.2" y2="621.5" stroke="#1c1c1c" stroke-width="0.9"/>
<text x="504.2" y="632.2" font-size="7.5" fill="#222222" text-anchor="middle" stroke="#222222" stroke-width="0.16">0.40</text>
<line x1="313.5" y1="605" x2="316.8" y2="605" stroke="#1c1c1c" stroke-width="0.9"/>
<text x="309.7" y="607.45" font-size="7.5" fill="#222222" text-anchor="end" stroke="#222222" stroke-width="0.16">0.0</text>
<line x1="313.5" y1="577.96" x2="316.8" y2="577.96" stroke="#1c1c1c" stroke-width="0.9"/>
<text x="309.7" y="580.41" font-size="7.5" fill="#222222" text-anchor="end" stroke="#222222" stroke-width="0.16">0.1</text>
<line x1="313.5" y1="550.92" x2="316.8" y2="550.92" stroke="#1c1c1c" stroke-width="0.9"/>
<text x="309.7" y="553.37" font-size="7.5" fill="#222222" text-anchor="end" stroke="#222222" stroke-width="0.16">0.2</text>
<line x1="313.5" y1="523.88" x2="316.8" y2="523.88" stroke="#1c1c1c" stroke-width="0.9"/>
<text x="309.7" y="526.33" font-size="7.5" fill="#222222" text-anchor="end" stroke="#222222" stroke-width="0.16">0.3</text>
<line x1="313.5" y1="496.84" x2="316.8" y2="496.84" stroke="#1c1c1c" stroke-width="0.9"/>
<text x="309.7" y="499.29" font-size="7.5" fill="#222222" text-anchor="end" stroke="#222222" stroke-width="0.16">0.4</text>
<line x1="313.5" y1="469.8" x2="316.8" y2="469.8" stroke="#1c1c1c" stroke-width="0.9"/>
<text x="309.7" y="472.25" font-size="7.5" fill="#222222" text-anchor="end" stroke="#222222" stroke-width="0.16">0.5</text>
<text x="410.75" y="646.5" font-size="10.5" fill="#222222" text-anchor="middle" stroke="#222222" stroke-width="0.3" textLength="63.1" lengthAdjust="spacingAndGlyphs">Threshold probability</text>
<text x="292.1" y="544.2" font-size="9.5" fill="#222222" text-anchor="middle" stroke="#222222" stroke-width="0.3" textLength="60.6" lengthAdjust="spacingAndGlyphs" transform="rotate(-90 292.1 544.2)">Net-benefit (action)</text>
<rect x="0" y="0" width="520" height="1" fill="#303030"/>
<rect x="0" y="0" width="1" height="657" fill="#303030"/>
<rect x="519" y="0" width="1" height="657" fill="#303030"/>
<rect x="0" y="656" width="520" height="1" fill="#303030"/>
</svg>
</body></html>
